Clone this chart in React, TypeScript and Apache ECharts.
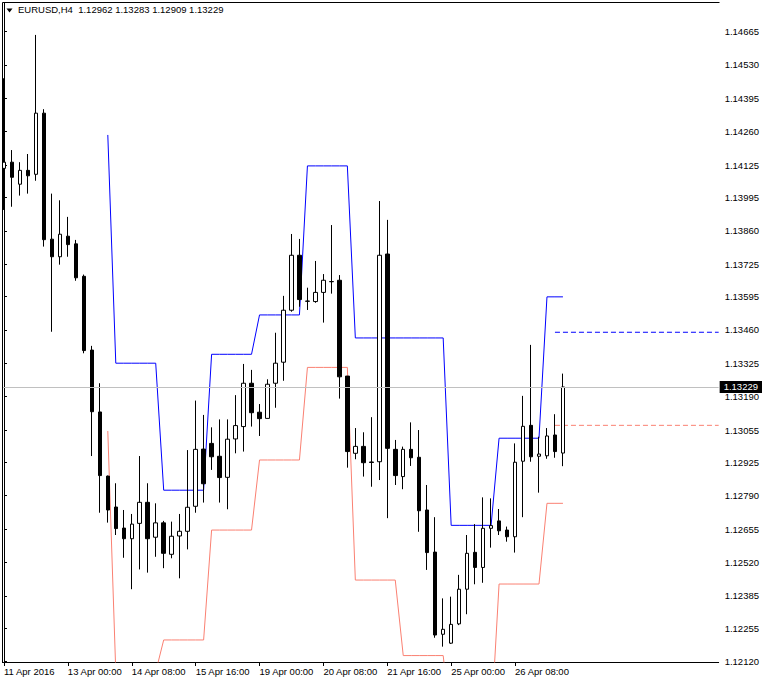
import React, { useEffect, useRef } from "react";
import * as echarts from "echarts";

const titleText = "EURUSD,H4  1.12962 1.13283 1.12909 1.13229";
const lastClose = 1.13229;

const opens = [
  1.14112, 1.14137, 1.14048, 1.14104, 1.14088, 1.14335, 1.13826, 1.13755, 1.13838, 1.13807,
  1.13676, 1.13378, 1.13128, 1.12869, 1.12744, 1.12659, 1.12616, 1.12678, 1.12763, 1.12622,
  1.1268, 1.12553, 1.12627, 1.12646, 1.12747, 1.12978, 1.13001, 1.12949, 1.12864, 1.13019,
  1.13069, 1.13244, 1.13127, 1.13102, 1.13244, 1.13329, 1.13539, 1.13761, 1.13575, 1.13574,
  1.13611, 1.13654, 1.1366, 1.13273, 1.12961, 1.12989, 1.12926, 1.12927, 1.13766, 1.12977,
  1.12867, 1.12977, 1.12945, 1.12732, 1.12562, 1.1223, 1.12194, 1.12272, 1.12412, 1.12561,
  1.125, 1.12658, 1.12688, 1.12651, 1.12624, 1.12929, 1.13074, 1.12949, 1.12951, 1.13035,
  1.12962,
];
const closes = [
  1.14137, 1.14076, 1.14104, 1.14082, 1.14335, 1.13824, 1.13755, 1.13846, 1.13804, 1.1367,
  1.13376, 1.13129, 1.12871, 1.12732, 1.12657, 1.12616, 1.12675, 1.12763, 1.12616, 1.1268,
  1.12557, 1.12626, 1.12646, 1.12743, 1.12977, 1.12838, 1.12947, 1.12863, 1.13018, 1.13073,
  1.13244, 1.13125, 1.13101, 1.1324, 1.13325, 1.13539, 1.13761, 1.13582, 1.13576, 1.13611,
  1.1366, 1.13655, 1.1327, 1.12968, 1.12989, 1.12923, 1.12924, 1.13761, 1.12981, 1.12871,
  1.12977, 1.12943, 1.12729, 1.1256, 1.12227, 1.1225, 1.1227, 1.12412, 1.12557, 1.125,
  1.12658, 1.12669, 1.12648, 1.12624, 1.12925, 1.1307, 1.12947, 1.12958, 1.13031, 1.12968,
  1.13229,
];
const lows = [
  1.13944, 1.13957, 1.14002, 1.1401, 1.14062, 1.13796, 1.13452, 1.13723, 1.13755, 1.13658,
  1.13365, 1.1295, 1.12721, 1.12681, 1.12631, 1.12539, 1.12412, 1.12492, 1.12479, 1.12543,
  1.12497, 1.12537, 1.12456, 1.12573, 1.12721, 1.12762, 1.12894, 1.12762, 1.12735, 1.12961,
  1.12968, 1.13069, 1.13031, 1.13102, 1.13145, 1.13254, 1.13533, 1.13553, 1.1354, 1.13569,
  1.13489, 1.13606, 1.13182, 1.12903, 1.12937, 1.12867, 1.12826, 1.12853, 1.12699, 1.12833,
  1.12816, 1.1291, 1.12644, 1.1249, 1.12216, 1.1218, 1.12191, 1.12267, 1.12311, 1.12432,
  1.12438, 1.1258, 1.12631, 1.12604, 1.1256, 1.12703, 1.12927, 1.12802, 1.12939, 1.12943,
  1.12909,
];
const highs = [
  1.14476, 1.14186, 1.14137, 1.1417, 1.14651, 1.14351, 1.1401, 1.13983, 1.13916, 1.13823,
  1.13683, 1.13395, 1.13244, 1.12871, 1.1284, 1.12732, 1.12716, 1.1295, 1.1284, 1.12759,
  1.12688, 1.12685, 1.12716, 1.12974, 1.13174, 1.13116, 1.13066, 1.13098, 1.13098, 1.13196,
  1.13322, 1.13298, 1.1316, 1.1326, 1.13448, 1.13597, 1.13847, 1.13827, 1.1363, 1.13738,
  1.13685, 1.13883, 1.13681, 1.13273, 1.13063, 1.13046, 1.13107, 1.1398, 1.13904, 1.13015,
  1.12988, 1.13086, 1.13055, 1.12833, 1.12703, 1.12375, 1.12382, 1.1247, 1.12631, 1.12675,
  1.12783, 1.12779, 1.12736, 1.12665, 1.13001, 1.13193, 1.13399, 1.13028, 1.13063, 1.13119,
  1.13283,
];

const upperLevels: (number | null)[] = [
  null, null, null, null, null, null, null, null, null, null,
  null, null, null, 1.14247, 1.13325, 1.13325, 1.13325, 1.13325, 1.13325, 1.13325,
  1.12812, 1.12812, 1.12812, 1.12812, 1.12812, 1.12812, 1.13361, 1.13361, 1.13361, 1.13361,
  1.13361, 1.13361, 1.1352, 1.1352, 1.1352, 1.1352, 1.1352, 1.1352, 1.14122, 1.14122,
  1.14122, 1.14122, 1.14122, 1.14122, 1.13427, 1.13427, 1.13427, 1.13427, 1.13427, 1.13427,
  1.13427, 1.13427, 1.13427, 1.13427, 1.13427, 1.13427, 1.1267, 1.1267, 1.1267, 1.1267,
  1.1267, 1.1267, 1.13022, 1.13022, 1.13022, 1.13022, 1.13022, 1.13022, 1.13593, 1.13593,
  1.13593,
];
const lowerLevels: (number | null)[] = [
  null, null, null, null, null, null, null, null, null, null,
  null, null, null, 1.13051, 1.12078, 1.12078, 1.12078, 1.12078, 1.12078, 1.12078,
  1.12207, 1.12207, 1.12207, 1.12207, 1.12207, 1.12207, 1.12651, 1.12651, 1.12651, 1.12651,
  1.12651, 1.12651, 1.12934, 1.12934, 1.12934, 1.12934, 1.12934, 1.12934, 1.13308, 1.13308,
  1.13308, 1.13308, 1.13308, 1.13308, 1.12449, 1.12449, 1.12449, 1.12449, 1.12449, 1.12449,
  1.12144, 1.12144, 1.12144, 1.12144, 1.12144, 1.12144, 1.11863, 1.11863, 1.11863, 1.11863,
  1.11863, 1.11863, 1.12433, 1.12433, 1.12433, 1.12433, 1.12433, 1.12433, 1.12759, 1.12759,
  1.12759,
];

const projectionStart = 69;
const upperProjection = 1.1345;
const lowerProjection = 1.13074;

const xTickLabels = [
  "11 Apr 2016",
  "13 Apr 00:00",
  "14 Apr 08:00",
  "15 Apr 16:00",
  "19 Apr 00:00",
  "20 Apr 08:00",
  "21 Apr 16:00",
  "25 Apr 00:00",
  "26 Apr 08:00",
];
const xTickEvery = 8;

const yTicks = [
  1.14665, 1.1453, 1.14395, 1.1426, 1.14125, 1.13995, 1.1386, 1.13725, 1.13595, 1.1346,
  1.13325, 1.1319, 1.13055, 1.12925, 1.1279, 1.12655, 1.1252, 1.12385, 1.12255, 1.1212,
];
const yMin = 1.12118;
const yMax = 1.1478;
const slotCount = 90;

const FONT = "Liberation Sans";

export default function App() {
  const ref = useRef<HTMLDivElement>(null);
  useEffect(() => {
    if (!ref.current) return;
    const chart = echarts.init(ref.current, null, { renderer: "svg" });
    const categories = Array.from({ length: slotCount }, (_, i) => String(i));
    const candleData = opens.map((o, i) => [o, closes[i], lows[i], highs[i]]);
    const showTick = (index: number) =>
      index % xTickEvery === 0 && index / xTickEvery < xTickLabels.length;

    chart.setOption({
      animation: false,
      backgroundColor: "#ffffff",
      textStyle: { fontFamily: FONT },
      title: {
        text: titleText,
        left: 18,
        top: 4,
        padding: 0,
        textStyle: { fontFamily: FONT, fontSize: 9.5, fontWeight: "normal", color: "#000" },
      },
      grid: { left: -1, right: 43, top: 3, bottom: 22, containLabel: false },
      xAxis: [
        {
          type: "category",
          data: categories,
          boundaryGap: true,
          axisLine: { show: true, lineStyle: { color: "#000", width: 1 } },
          axisTick: {
            show: true,
            alignWithLabel: true,
            interval: (index: number) => showTick(index),
            length: 4,
            lineStyle: { color: "#000" },
          },
          axisLabel: {
            show: true,
            interval: (index: number) => showTick(index),
            formatter: (_v: string, index: number) => xTickLabels[index / xTickEvery] ?? "",
            align: "left",
            margin: 4,
            color: "#000",
            fontFamily: FONT,
            fontSize: 9.5,
          },
          splitLine: { show: false },
        },
        {
          type: "value",
          min: -0.5,
          max: slotCount - 0.5,
          show: false,
          splitLine: { show: false },
        },
      ],
      yAxis: {
        type: "value",
        position: "right",
        min: yMin,
        max: yMax,
        scale: true,
        axisLine: { show: true, lineStyle: { color: "#000", width: 1 } },
        axisTick: { show: true, customValues: yTicks, length: 3, lineStyle: { color: "#000" } },
        axisLabel: {
          show: true,
          customValues: yTicks,
          formatter: (v: number) => v.toFixed(5),
          margin: 6,
          color: "#000",
          fontFamily: FONT,
          fontSize: 9.5,
        },
        splitLine: { show: false },
      },
      series: [
        {
          type: "candlestick",
          data: candleData,
          barWidth: 4,
          clip: true,
          itemStyle: {
            color: "#ffffff",
            color0: "#000000",
            borderColor: "#000000",
            borderColor0: "#000000",
            borderWidth: 1,
          },
          z: 3,
        },
        {
          type: "line",
          data: upperLevels,
          symbol: "none",
          lineStyle: { color: "#0000FF", width: 1 },
          z: 2,
        },
        {
          type: "line",
          data: lowerLevels,
          symbol: "none",
          lineStyle: { color: "#FA8072", width: 1 },
          z: 2,
        },
        {
          type: "line",
          xAxisIndex: 1,
          data: [
            [projectionStart, upperProjection],
            [slotCount - 0.5, upperProjection],
          ],
          symbol: "none",
          lineStyle: { color: "#0000FF", width: 1, type: [5, 3] },
          z: 2,
          markLine: {
            silent: true,
            symbol: "none",
            animation: false,
            precision: 5,
            lineStyle: { color: "#C0C0C0", width: 1, type: "solid" },
            label: {
              show: true,
              position: "end",
              distance: 1,
              formatter: () => lastClose.toFixed(5),
              backgroundColor: "#000",
              color: "#fff",
              padding: [1, 4],
              fontFamily: FONT,
              fontSize: 9.5,
            },
            data: [{ yAxis: lastClose }],
          },
        },
        {
          type: "line",
          xAxisIndex: 1,
          data: [
            [projectionStart, lowerProjection],
            [slotCount - 0.5, lowerProjection],
          ],
          symbol: "none",
          lineStyle: { color: "#FA8072", width: 1, type: [5, 3] },
          z: 2,
        },
      ],
      graphic: [
        {
          type: "rect",
          z: 100,
          shape: { x: 0, y: 0, width: 2, height: 664 },
          style: { fill: "#ffffff" },
        },
        {
          type: "line",
          z: 101,
          shape: { x1: 2.5, y1: 2.5, x2: 719.5, y2: 2.5 },
          style: { stroke: "#000", lineWidth: 1 },
        },
        {
          type: "line",
          z: 101,
          shape: { x1: 2.5, y1: 2.5, x2: 2.5, y2: 662.5 },
          style: { stroke: "#000", lineWidth: 1 },
        },
        {
          type: "polygon",
          z: 101,
          shape: { points: [[6.5, 8.5], [12.5, 8.5], [9.5, 12.5]] },
          style: { fill: "#000" },
        },
      ],
    });
    return () => chart.dispose();
  }, []);
  return (
    <div
      ref={ref}
      style={{ position: "absolute", left: 0, top: 0, width: 762, height: 684 }}
    />
  );
}
